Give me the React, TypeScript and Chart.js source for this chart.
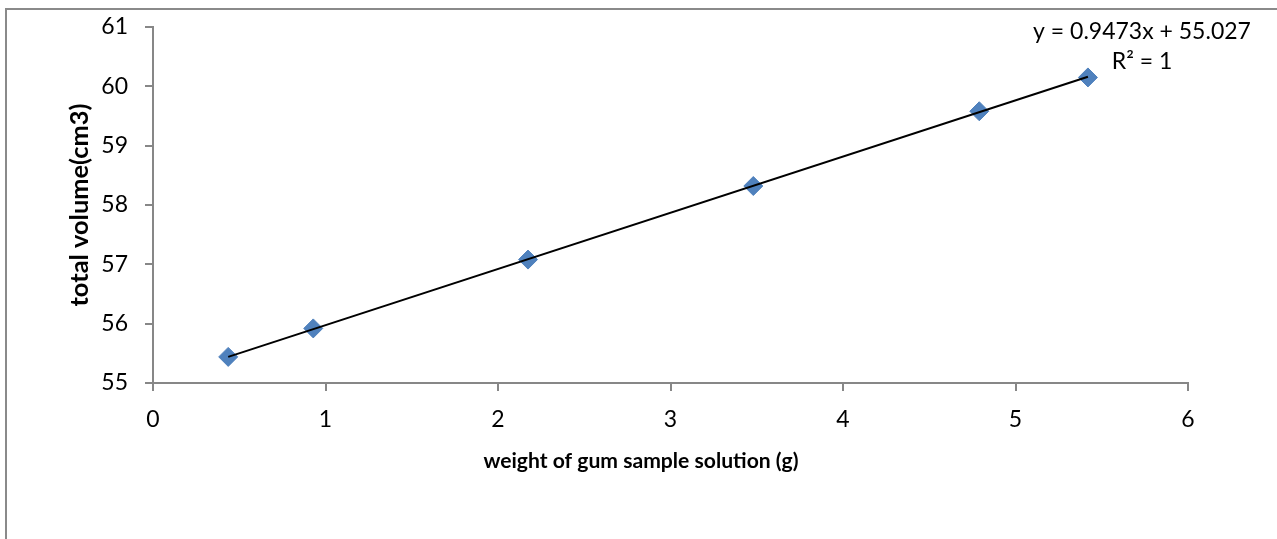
import { useEffect, useRef } from "react";
import { Chart, registerables } from "chart.js";

Chart.register(...registerables);

const weights = [0.436, 0.929, 2.174, 3.48, 4.79, 5.42];
const volumes = [55.44, 55.92, 57.08, 58.32, 59.58, 60.15];
const slope = 0.9473;
const intercept = 55.027;
const xRange = [0, 6];
const yRange = [55, 61];
const xTitle = "weight of gum sample solution (g)";
const yTitle = "total volume(cm3)";
const equationLines = ["y = 0.9473x + 55.027", "R² = 1"];

const FONT = "Lato, 'Noto Sans', sans-serif";
const AXIS_GRAY = "#878787";

function fitFont(ctx: CanvasRenderingContext2D, text: string, target: number, weight: string) {
  ctx.font = `${weight} 20px ${FONT}`;
  const w = ctx.measureText(text).width;
  const size = Math.max(12, Math.min(30, (20 * target) / w));
  ctx.font = `${weight} ${size.toFixed(2)}px ${FONT}`;
}

export default function App() {
  const ref = useRef<HTMLCanvasElement | null>(null);

  useEffect(() => {
    if (!ref.current) return;
    const xMin = Math.min(...weights);
    const xMax = Math.max(...weights);
    const trend = [
      { x: xMin, y: slope * xMin + intercept },
      { x: xMax, y: slope * xMax + intercept },
    ];
    const points = weights.map((w, i) => ({ x: w, y: volumes[i] }));

    const decor = {
      id: "decor",
      beforeDraw(chart: any) {
        const ctx = chart.ctx;
        ctx.save();
        ctx.fillStyle = "#ffffff";
        ctx.fillRect(0, 0, chart.width, chart.height);
        ctx.strokeStyle = "#8a8a8a";
        ctx.lineWidth = 2;
        ctx.strokeRect(6, 9, chart.width + 20, chart.height + 20);
        ctx.restore();
      },
      afterDraw(chart: any) {
        const ctx = chart.ctx;
        ctx.save();
        ctx.fillStyle = "#000000";
        ctx.textAlign = "center";
        ctx.textBaseline = "middle";
        fitFont(ctx, xTitle, 315, "bold");
        ctx.fillText(xTitle, 641, 461);
        ctx.save();
        ctx.translate(80, 205);
        ctx.rotate(-Math.PI / 2);
        fitFont(ctx, yTitle, 203, "bold");
        ctx.fillText(yTitle, 0, 0);
        ctx.restore();
        ctx.font = `23px ${FONT}`;
        ctx.fillText(equationLines[0], 1142, 32);
        ctx.fillText(equationLines[1], 1142, 62);
        ctx.restore();
      },
    };

    const chart = new Chart(ref.current, {
      type: "scatter",
      data: {
        datasets: [
          {
            type: "line",
            data: trend,
            borderColor: "#000000",
            borderWidth: 2,
            pointRadius: 0,
            showLine: true,
            fill: false,
          } as any,
          {
            data: points,
            pointStyle: "rectRot",
            pointRadius: 9.5,
            pointBackgroundColor: "#4F81BD",
            pointBorderColor: "#4F81BD",
            pointBorderWidth: 1,
          },
        ],
      },
      options: {
        responsive: false,
        animation: false,
        layout: { padding: { left: 0, top: 27, right: 89, bottom: 0 } },
        plugins: { legend: { display: false }, tooltip: { enabled: false } },
        scales: {
          x: {
            type: "linear",
            min: xRange[0],
            max: xRange[1],
            ticks: {
              stepSize: 1,
              color: "#000000",
              font: { family: FONT, size: 23 },
              padding: 15,
            },
            grid: {
              drawOnChartArea: false,
              drawTicks: true,
              tickLength: 8,
              color: AXIS_GRAY,
              lineWidth: 2,
            },
            border: { display: true, color: AXIS_GRAY, width: 2 },
            afterFit(scale: any) {
              scale.height = 156;
            },
          },
          y: {
            type: "linear",
            min: yRange[0],
            max: yRange[1],
            ticks: {
              stepSize: 1,
              color: "#000000",
              font: { family: FONT, size: 23, lineHeight: 0.8 },
              padding: 17,
            },
            grid: {
              drawOnChartArea: false,
              drawTicks: true,
              tickLength: 8,
              color: AXIS_GRAY,
              lineWidth: 2,
            },
            border: { display: true, color: AXIS_GRAY, width: 2 },
            afterFit(scale: any) {
              scale.width = 153;
            },
          },
        },
      },
      plugins: [decor],
    });
    return () => chart.destroy();
  }, []);

  return (
    <div style={{ position: "absolute", left: 0, top: 0, width: 1277, height: 539, overflow: "hidden", background: "#fff" }}>
      <canvas ref={ref} width={1277} height={539} style={{ display: "block" }} />
    </div>
  );
}
